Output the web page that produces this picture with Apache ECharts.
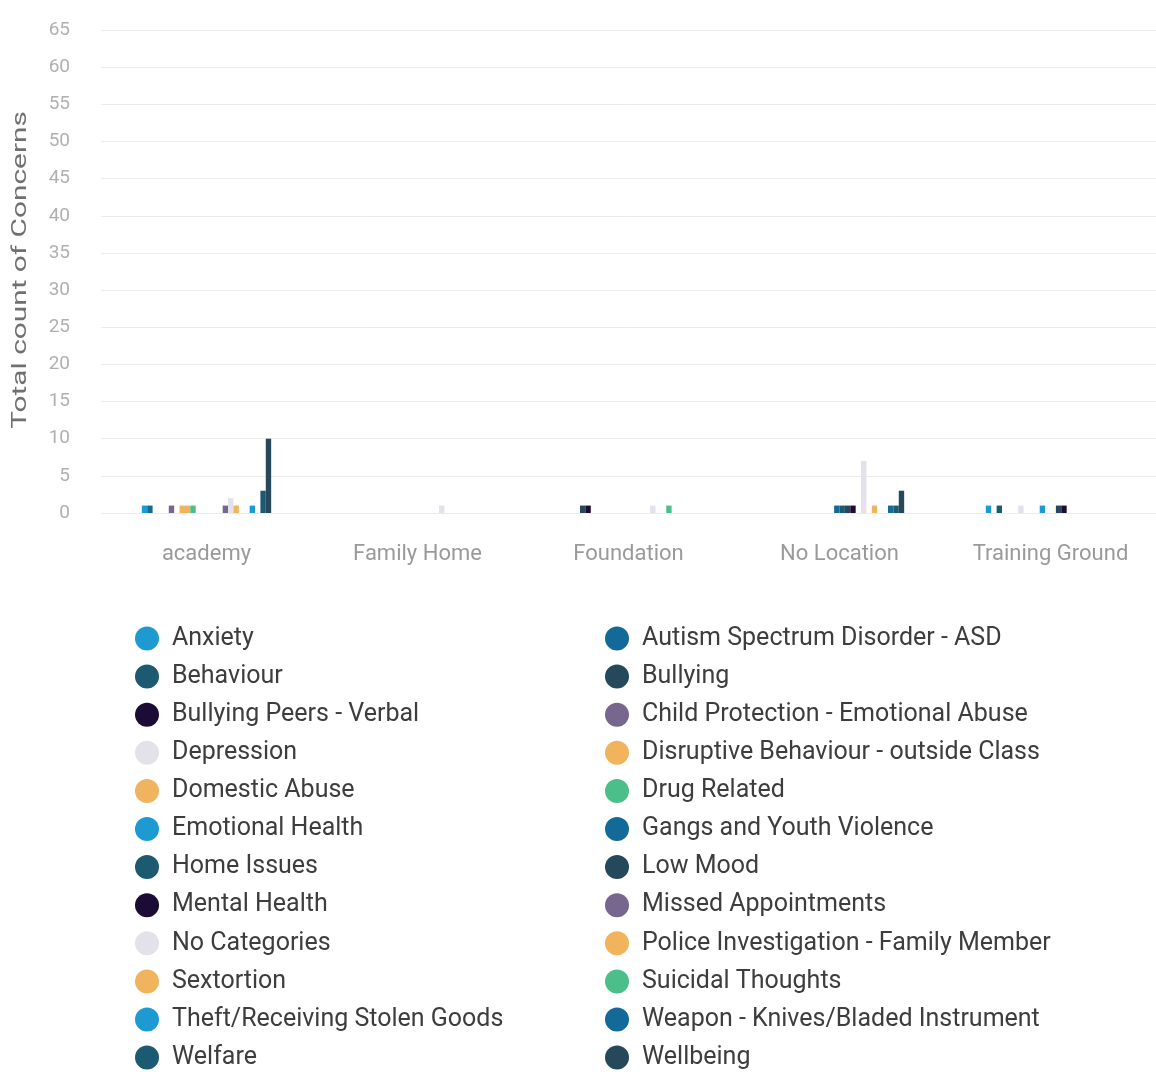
<!DOCTYPE html>
<html>
<head>
<meta charset="utf-8">
<script src="https://cdn.jsdelivr.net/npm/echarts@6/dist/echarts.min.js"></script>
<style>
  html, body { margin: 0; padding: 0; background: #fff; }
  #chart { width: 1156px; height: 1072px; }
</style>
</head>
<body>
<div id="chart"></div>
<script>
// Concern categories, in legend order
const concernTypes = [
  'Anxiety', 'Autism Spectrum Disorder - ASD', 'Behaviour', 'Bullying',
  'Bullying Peers - Verbal', 'Child Protection - Emotional Abuse', 'Depression',
  'Disruptive Behaviour - outside Class', 'Domestic Abuse', 'Drug Related',
  'Emotional Health', 'Gangs and Youth Violence', 'Home Issues', 'Low Mood',
  'Mental Health', 'Missed Appointments', 'No Categories',
  'Police Investigation - Family Member', 'Sextortion', 'Suicidal Thoughts',
  'Theft/Receiving Stolen Goods', 'Weapon - Knives/Bladed Instrument',
  'Welfare', 'Wellbeing'
];

// Locations along the x axis
const locations = ['academy', 'Family Home', 'Foundation', 'No Location', 'Training Ground'];

// Count of concerns per concern type, one array per location
const academyCounts        = [1,1,0,0,0,1,0,1,1,1,0,0,0,0,0,1,2,1,0,0,1,0,3,10];
const familyHomeCounts     = [0,0,0,0,0,0,0,0,0,0,0,0,0,0,0,0,1,0,0,0,0,0,0,0];
const foundationCounts     = [0,0,0,1,1,0,0,0,0,0,0,0,0,0,0,0,1,0,0,1,0,0,0,0];
const noLocationCounts     = [0,0,0,0,0,0,0,0,0,0,0,1,1,1,1,0,7,0,1,0,0,1,1,3];
const trainingGroundCounts = [1,0,1,0,0,0,1,0,0,0,1,0,0,1,1,0,0,0,0,0,0,0,0,0];

// Y axis ticks
const yMin = 0, yMax = 65, yStep = 5;
const yTitle = 'Total count of Concerns';

const palette = [
  '#1e9ad3', '#136a99', '#1b5a70', '#25495a', '#1c0b34',
  '#77678f', '#e3e1ea', '#f1b35c', '#f0b45f', '#4cbf88'
];

const countsByLocation = [academyCounts, familyHomeCounts, foundationCounts, noLocationCounts, trainingGroundCounts];

const series = concernTypes.map((name, i) => ({
  name: name,
  type: 'bar',
  barGap: '0%',
  barCategoryGap: '38.7%',
  itemStyle: { color: palette[i % palette.length] },
  data: countsByLocation.map(arr => arr[i] === 0 ? null : arr[i])
}));

// Two legend columns, filled row by row
const leftColumn = concernTypes.filter((_, i) => i % 2 === 0);
const rightColumn = concernTypes.filter((_, i) => i % 2 === 1);

const legendBase = {
  orient: 'vertical',
  top: 626,
  height: 480,
  padding: 0,
  icon: 'circle',
  itemWidth: 24,
  itemHeight: 24,
  itemGap: 13.1,
  selectedMode: false,
  textStyle: {
    fontFamily: 'Roboto',
    fontSize: 25,
    lineHeight: 24,
    color: '#3d3d3d',
    padding: [0, 0, 0, 8]
  }
};

const chart = echarts.init(document.getElementById('chart'), null, { renderer: 'canvas' });
chart.setOption({
  animation: false,
  backgroundColor: '#fff',
  color: palette,
  grid: { left: 101, right: 0, top: 30, bottom: 559, containLabel: false },
  legend: [
    Object.assign({}, legendBase, { left: 135, data: leftColumn }),
    Object.assign({}, legendBase, { left: 605, data: rightColumn })
  ],
  graphic: [{
    type: 'text',
    x: 21,
    y: 270,
    rotation: Math.PI / 2,
    scaleX: 1.42,
    style: {
      text: yTitle,
      font: '21px Roboto',
      fill: '#707070',
      textAlign: 'center',
      textVerticalAlign: 'middle'
    }
  }],
  xAxis: {
    type: 'category',
    data: locations,
    axisLine: { show: false },
    axisTick: { show: false },
    axisLabel: {
      margin: 30,
      fontFamily: 'Roboto',
      fontSize: 22,
      color: '#9a9a9a'
    }
  },
  yAxis: {
    type: 'value',
    min: yMin,
    max: yMax,
    interval: yStep,
    axisLine: { show: false },
    axisTick: { show: false },
    axisLabel: { margin: 31, fontFamily: 'Roboto', fontSize: 19, color: '#b0b0b0' },
    splitLine: { lineStyle: { color: '#ebebeb', width: 1 } }
  },
  series: series
});
</script>
</body>
</html>
